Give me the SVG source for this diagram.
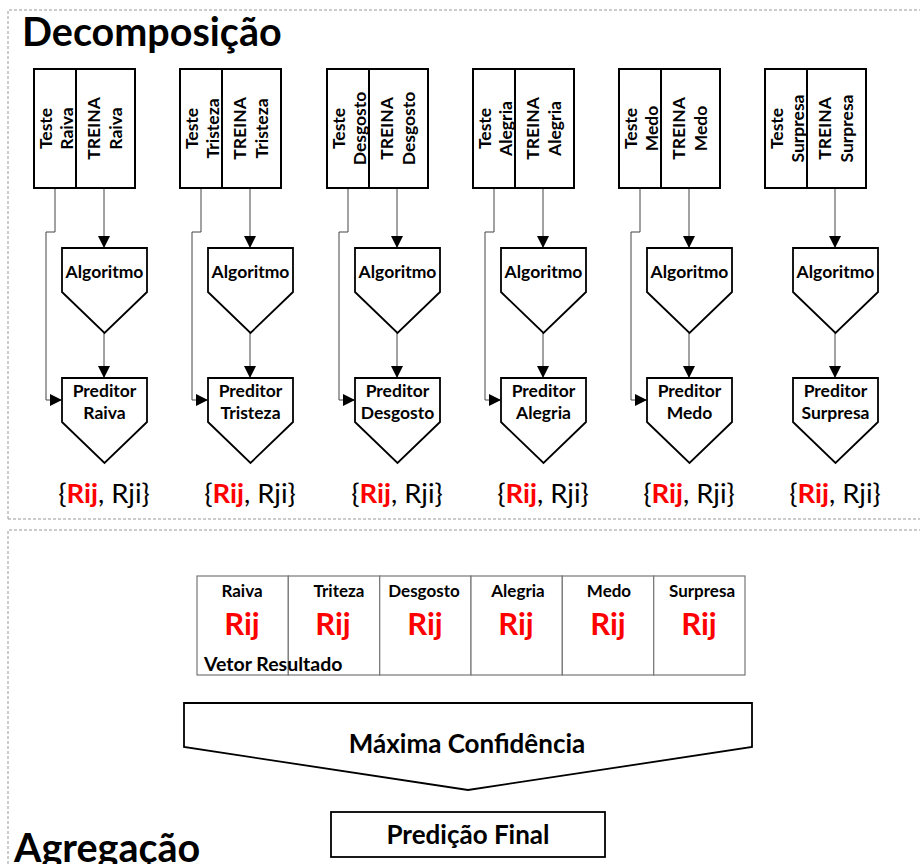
<svg xmlns="http://www.w3.org/2000/svg" width="920" height="864" viewBox="0 0 920 864">
<style>
text{font-family:Lato,"Open Sans","Liberation Sans",sans-serif;fill:#000}
.box{fill:#fff;stroke:#000;stroke-width:2}
.pent{fill:#fff;stroke:#000;stroke-width:1.8}
.frame{fill:none;stroke:#999;stroke-width:1;stroke-dasharray:3 2}
.rt{font-size:17.5px;font-weight:bold;text-anchor:middle}
.nl{font-size:17.5px;font-weight:bold;text-anchor:middle}
.rr{font-size:27.5px;text-anchor:middle}
.red{fill:#ff0000;font-weight:bold}
.con{fill:none;stroke:#444;stroke-width:1}
.tab{fill:#fff;stroke:#777;stroke-width:1.2}
.tl{font-size:17px;font-weight:bold;text-anchor:middle}
.rij{font-size:31px;font-weight:bold;fill:#ff0000;text-anchor:middle}
.big{font-size:39.5px;font-weight:bold}
.mid{font-size:26px;font-weight:bold;text-anchor:middle}
</style>
<defs>
<marker id="ah" markerUnits="userSpaceOnUse" markerWidth="12" markerHeight="12" refX="12" refY="6" orient="auto" viewBox="0 0 12 12">
<path d="M0,0 L12,6 L0,12 z" fill="#000"/>
</marker>
</defs>

<path class="frame" d="M8,519 V10 H920 M8,864 V530 H920 M8,519 H920"/>
<text class="big" x="22" y="46">Decomposição</text>
<text class="big" x="14" y="862">Agregação</text>

<g id="connectors">
<path class="con" d="M104,188 V248" marker-end="url(#ah)"/>
<path class="con" d="M104,333 V378" marker-end="url(#ah)"/>
<path class="con" d="M55,188 V232 H46 V400 H62" marker-end="url(#ah)"/>
<path class="con" d="M250,188 V248" marker-end="url(#ah)"/>
<path class="con" d="M250,333 V378" marker-end="url(#ah)"/>
<path class="con" d="M201,188 V232 H192 V400 H208" marker-end="url(#ah)"/>
<path class="con" d="M397,188 V248" marker-end="url(#ah)"/>
<path class="con" d="M397,333 V378" marker-end="url(#ah)"/>
<path class="con" d="M348,188 V232 H339 V400 H355" marker-end="url(#ah)"/>
<path class="con" d="M543,188 V248" marker-end="url(#ah)"/>
<path class="con" d="M543,333 V378" marker-end="url(#ah)"/>
<path class="con" d="M494,188 V232 H485 V400 H501" marker-end="url(#ah)"/>
<path class="con" d="M689,188 V248" marker-end="url(#ah)"/>
<path class="con" d="M689,333 V378" marker-end="url(#ah)"/>
<path class="con" d="M640,188 V232 H631 V400 H647" marker-end="url(#ah)"/>
<path class="con" d="M835,188 V248" marker-end="url(#ah)"/>
<path class="con" d="M835,333 V378" marker-end="url(#ah)"/>
</g>

<g id="data-raiva" transform="translate(34,0)">
<rect class="box" x="0" y="69" width="101" height="119"/><line x1="42" y1="69" x2="42" y2="188" stroke="#000" stroke-width="2"/>
<text class="rt" transform="translate(18,128.5) rotate(-90)">Teste</text>
<text class="rt" transform="translate(39,128.5) rotate(-90)">Raiva</text>
<text class="rt" transform="translate(66,128.5) rotate(-90)">TREINA</text>
<text class="rt" transform="translate(88,128.5) rotate(-90)">Raiva</text>
</g>
<g id="algo-raiva" transform="translate(34,0)">
<path class="pent" d="M28,248 H113 V292 L70.5,333 L28,292 Z"/>
<text class="nl" x="70.5" y="278">Algoritmo</text>
</g>
<g id="pred-raiva" transform="translate(34,0)">
<path class="pent" d="M28,378 H113 V422 L70.5,463 L28,422 Z"/>
<text class="nl" x="70.5" y="397">Preditor</text>
<text class="nl" x="70.5" y="419">Raiva</text>
</g>
<g id="res-raiva"><text class="rr" x="104" y="503">{<tspan class="red">Rij</tspan>, Rji}</text></g>

<g id="data-tristeza" transform="translate(180,0)">
<rect class="box" x="0" y="69" width="101" height="119"/><line x1="42" y1="69" x2="42" y2="188" stroke="#000" stroke-width="2"/>
<text class="rt" transform="translate(18,128.5) rotate(-90)">Teste</text>
<text class="rt" transform="translate(39,128.5) rotate(-90)">Tristeza</text>
<text class="rt" transform="translate(66,128.5) rotate(-90)">TREINA</text>
<text class="rt" transform="translate(88,128.5) rotate(-90)">Tristeza</text>
</g>
<g id="algo-tristeza" transform="translate(180,0)">
<path class="pent" d="M28,248 H113 V292 L70.5,333 L28,292 Z"/>
<text class="nl" x="70.5" y="278">Algoritmo</text>
</g>
<g id="pred-tristeza" transform="translate(180,0)">
<path class="pent" d="M28,378 H113 V422 L70.5,463 L28,422 Z"/>
<text class="nl" x="70.5" y="397">Preditor</text>
<text class="nl" x="70.5" y="419">Tristeza</text>
</g>
<g id="res-tristeza"><text class="rr" x="250" y="503">{<tspan class="red">Rij</tspan>, Rji}</text></g>

<g id="data-desgosto" transform="translate(327,0)">
<rect class="box" x="0" y="69" width="101" height="119"/><line x1="42" y1="69" x2="42" y2="188" stroke="#000" stroke-width="2"/>
<text class="rt" transform="translate(18,128.5) rotate(-90)">Teste</text>
<text class="rt" transform="translate(39,128.5) rotate(-90)">Desgosto</text>
<text class="rt" transform="translate(66,128.5) rotate(-90)">TREINA</text>
<text class="rt" transform="translate(88,128.5) rotate(-90)">Desgosto</text>
</g>
<g id="algo-desgosto" transform="translate(327,0)">
<path class="pent" d="M28,248 H113 V292 L70.5,333 L28,292 Z"/>
<text class="nl" x="70.5" y="278">Algoritmo</text>
</g>
<g id="pred-desgosto" transform="translate(327,0)">
<path class="pent" d="M28,378 H113 V422 L70.5,463 L28,422 Z"/>
<text class="nl" x="70.5" y="397">Preditor</text>
<text class="nl" x="70.5" y="419">Desgosto</text>
</g>
<g id="res-desgosto"><text class="rr" x="397" y="503">{<tspan class="red">Rij</tspan>, Rji}</text></g>

<g id="data-alegria" transform="translate(473,0)">
<rect class="box" x="0" y="69" width="101" height="119"/><line x1="42" y1="69" x2="42" y2="188" stroke="#000" stroke-width="2"/>
<text class="rt" transform="translate(18,128.5) rotate(-90)">Teste</text>
<text class="rt" transform="translate(39,128.5) rotate(-90)">Alegria</text>
<text class="rt" transform="translate(66,128.5) rotate(-90)">TREINA</text>
<text class="rt" transform="translate(88,128.5) rotate(-90)">Alegria</text>
</g>
<g id="algo-alegria" transform="translate(473,0)">
<path class="pent" d="M28,248 H113 V292 L70.5,333 L28,292 Z"/>
<text class="nl" x="70.5" y="278">Algoritmo</text>
</g>
<g id="pred-alegria" transform="translate(473,0)">
<path class="pent" d="M28,378 H113 V422 L70.5,463 L28,422 Z"/>
<text class="nl" x="70.5" y="397">Preditor</text>
<text class="nl" x="70.5" y="419">Alegria</text>
</g>
<g id="res-alegria"><text class="rr" x="543" y="503">{<tspan class="red">Rij</tspan>, Rji}</text></g>

<g id="data-medo" transform="translate(619,0)">
<rect class="box" x="0" y="69" width="101" height="119"/><line x1="42" y1="69" x2="42" y2="188" stroke="#000" stroke-width="2"/>
<text class="rt" transform="translate(18,128.5) rotate(-90)">Teste</text>
<text class="rt" transform="translate(39,128.5) rotate(-90)">Medo</text>
<text class="rt" transform="translate(66,128.5) rotate(-90)">TREINA</text>
<text class="rt" transform="translate(88,128.5) rotate(-90)">Medo</text>
</g>
<g id="algo-medo" transform="translate(619,0)">
<path class="pent" d="M28,248 H113 V292 L70.5,333 L28,292 Z"/>
<text class="nl" x="70.5" y="278">Algoritmo</text>
</g>
<g id="pred-medo" transform="translate(619,0)">
<path class="pent" d="M28,378 H113 V422 L70.5,463 L28,422 Z"/>
<text class="nl" x="70.5" y="397">Preditor</text>
<text class="nl" x="70.5" y="419">Medo</text>
</g>
<g id="res-medo"><text class="rr" x="689" y="503">{<tspan class="red">Rij</tspan>, Rji}</text></g>

<g id="data-surpresa" transform="translate(765,0)">
<rect class="box" x="0" y="69" width="101" height="119"/><line x1="42" y1="69" x2="42" y2="188" stroke="#000" stroke-width="2"/>
<text class="rt" transform="translate(18,128.5) rotate(-90)">Teste</text>
<text class="rt" transform="translate(39,128.5) rotate(-90)">Surpresa</text>
<text class="rt" transform="translate(66,128.5) rotate(-90)">TREINA</text>
<text class="rt" transform="translate(88,128.5) rotate(-90)">Surpresa</text>
</g>
<g id="algo-surpresa" transform="translate(765,0)">
<path class="pent" d="M28,248 H113 V292 L70.5,333 L28,292 Z"/>
<text class="nl" x="70.5" y="278">Algoritmo</text>
</g>
<g id="pred-surpresa" transform="translate(765,0)">
<path class="pent" d="M28,378 H113 V422 L70.5,463 L28,422 Z"/>
<text class="nl" x="70.5" y="397">Preditor</text>
<text class="nl" x="70.5" y="419">Surpresa</text>
</g>
<g id="res-surpresa"><text class="rr" x="835" y="503">{<tspan class="red">Rij</tspan>, Rji}</text></g>

<g id="vetor-resultado">
<rect class="tab" x="197" y="576" width="91.3" height="99"/>
<rect class="tab" x="288.3" y="576" width="91.4" height="99"/>
<rect class="tab" x="379.7" y="576" width="91.3" height="99"/>
<rect class="tab" x="471" y="576" width="91.3" height="99"/>
<rect class="tab" x="562.3" y="576" width="91.4" height="99"/>
<rect class="tab" x="653.7" y="576" width="91.3" height="99"/>
<text class="tl" x="242" y="597">Raiva</text>
<text class="tl" x="339" y="597">Triteza</text>
<text class="tl" x="424" y="597">Desgosto</text>
<text class="tl" x="518" y="597">Alegria</text>
<text class="tl" x="609" y="597">Medo</text>
<text class="tl" x="702" y="597">Surpresa</text>
<text class="rij" x="242" y="635">Rij</text>
<text class="rij" x="333" y="635">Rij</text>
<text class="rij" x="425" y="635">Rij</text>
<text class="rij" x="516" y="635">Rij</text>
<text class="rij" x="608" y="635">Rij</text>
<text class="rij" x="699" y="635">Rij</text>
<text x="204" y="671" style="font-size:19.5px;font-weight:bold">Vetor Resultado</text>
</g>

<g id="maxima-confianca">
<path class="pent" d="M184,703 H752 V747 L468,790 L184,747 Z"/>
<text class="mid" x="467" y="753">Máxima Confidência</text>
</g>

<g id="predicao-final">
<rect x="331" y="812" width="274" height="45" fill="#fff" stroke="#000" stroke-width="1.8"/>
<text class="mid" x="468" y="844">Predição Final</text>
</g>
</svg>
